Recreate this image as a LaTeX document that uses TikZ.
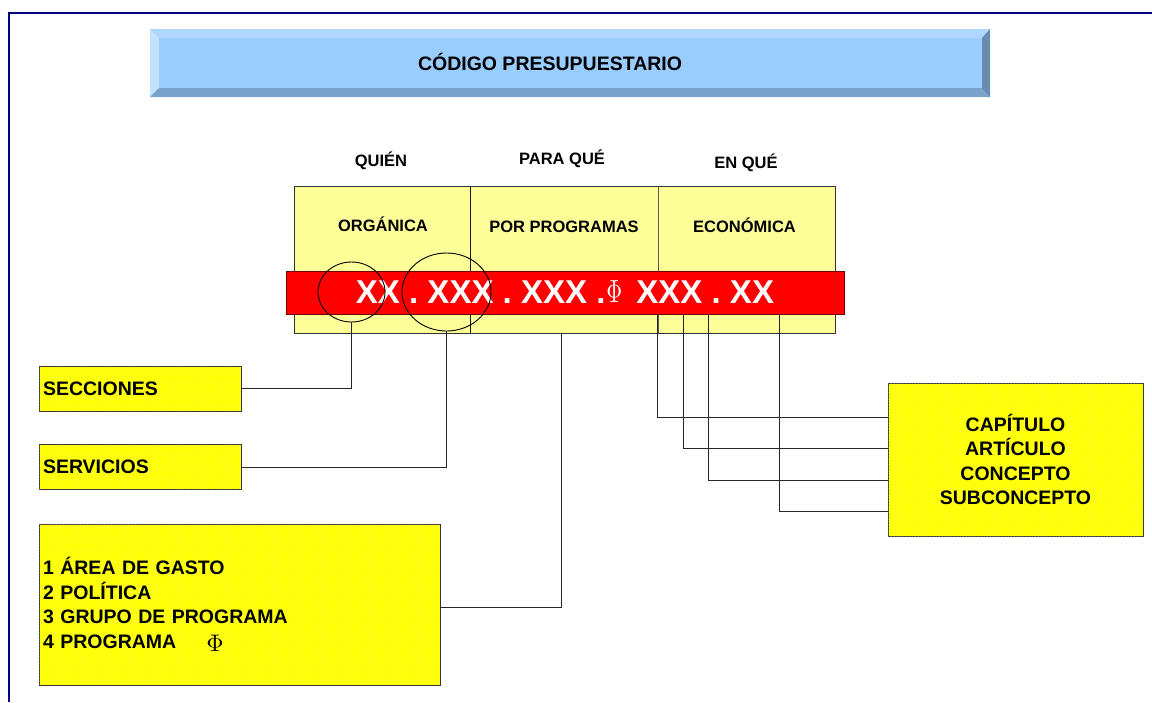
\documentclass[tikz,border=0pt]{standalone}
\usepackage{fontspec}
\setmainfont{Liberation Sans}
\usetikzlibrary{patterns,shapes.geometric}

\definecolor{bordo}{HTML}{000080}
\definecolor{celeste}{HTML}{99CCFF}
\definecolor{celestealto}{HTML}{AED6FF}
\definecolor{celestesx}{HTML}{C4E1FF}
\definecolor{celestebasso}{HTML}{7AA3CC}
\definecolor{celestedx}{HTML}{6A8CB0}
\definecolor{giallino}{HTML}{FFFF99}
\definecolor{giallo}{HTML}{FFFF00}
\definecolor{rosso}{HTML}{FF0000}

\newcommand{\fibanda}{\raisebox{1pt}{\scalebox{2.2}[3.2]{\normalsize$\Phi$}}}
\newcommand{\filista}{\raisebox{-3pt}{\scalebox{2.4}{\normalsize$\Phi$}}}

\tikzset{
  testo/.style={font=\bfseries\fontsize{16.5}{19}\selectfont},
  casella/.style={draw=black!80, fill=giallo, postaction={pattern=dots, pattern color=yellow!30!white},
    inner sep=4pt, font=\bfseries\fontsize{19.5}{24.5}\selectfont},
  linea/.style={draw=black!85, line width=1pt},
}

\begin{document}
\begin{tikzpicture}[x=1pt,y=-1pt]
  \useasboundingbox (0,0) rectangle (1152,702);

  % Disegna la cornice
  \draw[bordo, line width=2pt] (9,702) -- (9,12.5) -- (1152,12.5);

  % Titolo con bordo smussato
  \fill[celeste] (150,29) rectangle (990,97);
  \fill[celestealto] (150,29) -- (990,29) -- (982,38) -- (159,38) -- cycle;
  \fill[celestesx] (150,29) -- (159,38) -- (159,88) -- (150,97) -- cycle;
  \fill[celestebasso] (150,97) -- (159,88) -- (982,88) -- (990,97) -- cycle;
  \fill[celestedx] (990,29) -- (990,97) -- (982,88) -- (982,38) -- cycle;
  \node[font=\bfseries\fontsize{19.5}{22}\selectfont] (titolo) at (550,62) {CÓDIGO PRESUPUESTARIO};

  % Intestazioni delle colonne
  \node[testo] (quien) at (381,161) {QUIÉN};
  \node[testo] (paraque) at (562,159) {PARA QUÉ};
  \node[testo] (enque) at (746,163) {EN QUÉ};

  % Classificazioni
  \node[draw=black!80, fill=giallino, minimum width=541pt, minimum height=147pt, inner sep=0pt] (clasif) at (565,259.5) {};
  \draw[black!90] (470,186) -- (470,333);
  \draw[black!65] (658,186) -- (658,333);
  \node[testo] (organica) at (383,224) {ORGÁNICA};
  \node[testo] (porprog) at (564,227) {POR PROGRAMAS};
  \node[testo] (economica) at (744.5,225) {ECONÓMICA};

  % Codice
  \node[draw=rosso!45!black, fill=rosso, minimum width=558pt, minimum height=43pt, inner sep=0pt,
    text=white, font=\bfseries\fontsize{33}{33}\selectfont] (codigo) at (565,292.5)
    {XX . XXX . XXX .\hspace{1pt}\fibanda\hspace{5pt} XXX . XX};

  % Cerchi
  \node[draw, ellipse, line width=0.9pt, minimum width=67pt, minimum height=60pt, inner sep=0pt] (csec) at (351.5,292) {};
  \node[draw, ellipse, line width=0.9pt, minimum width=89pt, minimum height=78pt, inner sep=0pt] (cserv) at (446.5,292) {};

  % Caselle
  \node[casella, minimum height=45pt, text width=194pt, align=left] (secciones) at (140,388.5) {SECCIONES};
  \node[casella, minimum height=45pt, text width=194pt, align=left] (servicios) at (140,467) {SERVICIOS};
  \node[casella, minimum height=161pt, text width=393pt, align=left] (programas) at (239.5,604.5)
    {1 ÁREA DE GASTO\\2 POLÍTICA\\3 GRUPO DE PROGRAMA\\4 PROGRAMA\hspace{30pt}\filista};
  \node[casella, minimum width=255pt, minimum height=153pt, align=center] (capitulo) at (1015.5,459.5)
    {CAPÍTULO\\ARTÍCULO\\CONCEPTO\\SUBCONCEPTO};

  % Connettori
  \draw[linea] (csec.south) |- (secciones.east);
  \draw[linea] (cserv.south) |- (servicios.east);
  \coordinate (p1) at (561,333);
  \draw[linea] (p1) |- ([yshift=-3pt]programas.east);
  \foreach \n/\xx/\dy in {1/657/42.5, 2/683/11.5, 3/708/-20.5, 4/779/-51.5} {
    \coordinate (e\n) at (\xx,314);
    \draw[linea] (e\n) |- ([yshift=\dy pt]capitulo.west);
  }
\end{tikzpicture}
\end{document}
